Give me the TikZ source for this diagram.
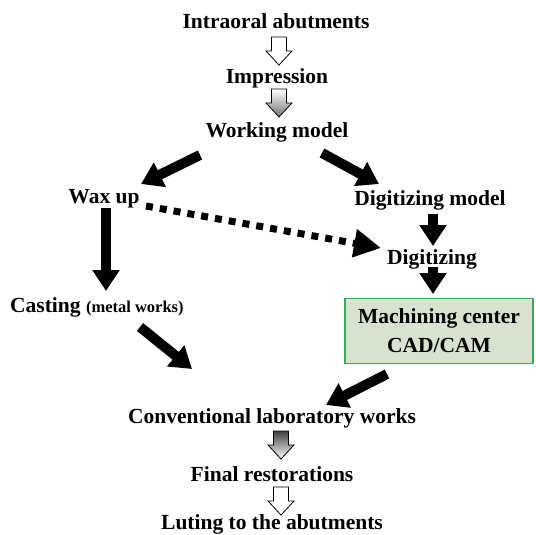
\documentclass[tikz,border=0pt]{standalone}
\usepackage{fontspec}
\setmainfont{Liberation Serif}
\usetikzlibrary{arrows.meta}
\definecolor{boxfill}{HTML}{D7E3CE}
\definecolor{boxline}{HTML}{3AA95C}
\tikzset{
  lbl/.style={font=\fontsize{21.5}{29}\selectfont\bfseries, inner sep=0pt, anchor=base},
  bigarrow/.style={line width=10pt, -{Triangle[width=26pt,length=21pt]}},
  dasharrow/.style={line width=7pt, dash pattern=on 7pt off 7pt, -{Triangle[width=27pt,length=27pt]}},
  hollow/.style={draw=black, line width=0.8pt, fill=white},
}
\newcommand\blkarrow[2]{% #1 = top-centre coordinate, #2 = style
  \path[#2] (#1) ++(-7.5,0) -- ++(15,0) -- ++(0,14) -- ++(5.5,0) -- ++(-13,14) -- ++(-13,-14) -- ++(5.5,0) -- cycle;}
\begin{document}
\begin{tikzpicture}[x=1pt,y=-1pt]
\useasboundingbox (0,0) rectangle (536,535);
% text nodes
\node[lbl] (intra) at (276,29) {Intraoral abutments};
\node[lbl] (impr) at (277,84) {Impression};
\node[lbl] (work) at (277,137) {Working model};
\node[lbl] (wax) at (104,203) {Wax up};
\node[lbl] (dmod) at (430,205) {Digitizing model};
\node[lbl] (digi) at (432,264) {Digitizing};
\node[lbl, anchor=base west] (cast) at (10,312) {Casting {\fontsize{16.5}{20}\selectfont (metal works)}};
\node[draw=boxline, fill=boxfill, line width=1.5pt, minimum width=188pt, minimum height=65pt,
      font=\fontsize{21.5}{29}\selectfont\bfseries, align=center, inner sep=0pt] (mc) at (439,331)
      {Machining center\\CAD/CAM};
\node[lbl] (conv) at (272,423) {Conventional laboratory works};
\node[lbl] (final) at (272,481) {Final restorations};
\node[lbl] (lut) at (272,529) {Luting to the abutments};
% block arrows
\coordinate (h1) at (279,37);
\coordinate (h2) at (279,89);
\coordinate (h3) at (281,431);
\coordinate (h4) at (281,487);
\blkarrow{h1}{hollow}
\blkarrow{h2}{draw=black, line width=0.8pt, top color=white, bottom color=black!55}
\blkarrow{h3}{draw=black, line width=0.8pt, top color=black!75, bottom color=white}
\blkarrow{h4}{hollow}
% black arrows
\coordinate (a1s) at (200,155); \coordinate (a1e) at (141,184);
\coordinate (a2s) at (322,153); \coordinate (a2e) at (379,184);
\coordinate (a3s) at (146,206); \coordinate (a3e) at (381,248);
\coordinate (a4s) at (433,214); \coordinate (a4e) at (433,246);
\coordinate (a5s) at (433,267); \coordinate (a5e) at (433,294);
\coordinate (a6s) at (106,208); \coordinate (a6e) at (106,291);
\coordinate (a7s) at (140,327); \coordinate (a7e) at (192,369);
\coordinate (a8s) at (387,374); \coordinate (a8e) at (326,405);
\draw[bigarrow] (a1s) -- (a1e);
\draw[bigarrow] (a2s) -- (a2e);
\draw[dasharrow] (a3s) -- (a3e);
\draw[bigarrow] (a4s) -- (a4e);
\draw[bigarrow] (a5s) -- (a5e);
\draw[bigarrow] (a6s) -- (a6e);
\draw[bigarrow] (a7s) -- (a7e);
\draw[bigarrow] (a8s) -- (a8e);
\end{tikzpicture}
\end{document}
